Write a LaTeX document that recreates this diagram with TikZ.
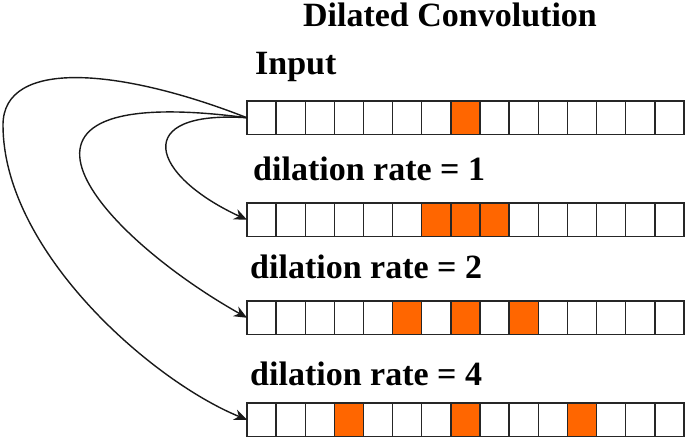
\documentclass[tikz,border=0pt]{standalone}
\usepackage{fontspec}
\setmainfont{Liberation Serif}[BoldFont={Liberation Serif Bold}]
\newfontfamily\tnrfont{Liberation Serif}[BoldFont={Liberation Serif Bold}]
\usetikzlibrary{arrows.meta}
\definecolor{cellorange}{RGB}{255,102,0}
\begin{document}
\begin{tikzpicture}[x=1pt,y=-1pt,
  cell/.style={draw=black!85,line width=1.4pt,minimum width=29.13pt,minimum height=33.5pt,inner sep=0pt,outer sep=0pt,anchor=north west},
  lbl/.style={font=\tnrfont\bfseries\fontsize{34}{40}\selectfont,inner sep=0pt},
  conn/.style={line width=1.4pt,black!90,-{Stealth[length=13pt,width=11pt]}}]
\useasboundingbox (0,0) rectangle (685,439);
\foreach \r/\y/\hl in {1/101/{7},2/203/{6,7,8},3/301/{5,7,9},4/403/{3,7,11}} {
  \foreach \c in {0,...,14} {
    \gdef\fillc{white}
    \foreach \h in \hl {\ifnum\c=\h\relax \gdef\fillc{cellorange}\fi}
    \node[cell,fill=\fillc] (c\r-\c) at (247+\c*29.13,\y) {};
  }
}
\node[lbl,anchor=base] (title) at (450,27) {Dilated Convolution};
\node[lbl,anchor=base west] (input) at (255,74) {Input};
\node[lbl,anchor=base west] (d1) at (253,180) {dilation rate = 1};
\node[lbl,anchor=base west] (d2) at (250,278) {dilation rate = 2};
\node[lbl,anchor=base west] (d4) at (250,385) {dilation rate = 4};
\coordinate (L) at (3,125);
\draw[conn] (c1-0.west) .. controls (130,110) and (150,175) .. (c2-0.west);
\draw[conn] (c1-0.west) .. controls (-40,80) and (100,235) .. (c3-0.west);
\draw[conn] (c1-0.west) .. controls (120,68) and (3,58) .. (L) .. controls (3,250) and (150,380) .. (c4-0.west);
\end{tikzpicture}
\end{document}
